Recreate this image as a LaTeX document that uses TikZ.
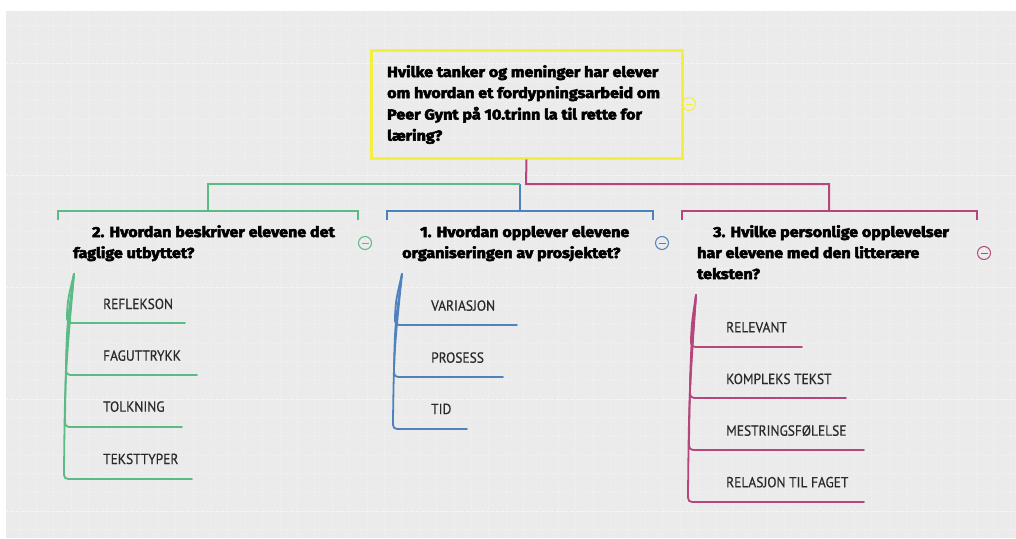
\documentclass[tikz,border=0pt]{standalone}
\usepackage{fontspec}
\setmainfont{PT Sans}[FakeStretch=0.92, FakeBold=0.5]
\newfontfamily\headfont{Fira Sans Bold}[FakeBold=3.6, FakeStretch=1.11]
\definecolor{bg}{HTML}{EBEBEB}
\definecolor{cgreen}{HTML}{5CBA85}
\definecolor{cblue}{HTML}{4E82BF}
\definecolor{cmag}{HTML}{B5467B}
\definecolor{cyel}{HTML}{F3EF3D}
\definecolor{itemtext}{HTML}{2A2A2A}
\begin{document}
\begin{tikzpicture}[x=1pt,y=-1pt,
  conn/.style={line width=2pt},
  branch/.style={line width=1.8pt, line cap=round},
  heading/.style={anchor=base west, inner sep=0, font=\headfont\fontsize{14.5}{21}\selectfont, text=black},
  itemlabel/.style={anchor=base west, inner sep=0, font=\fontsize{14.6}{16}\selectfont, text=itemtext},
  collapse/.style={circle, draw, line width=1pt, minimum size=13pt, inner sep=0,
    path picture={\draw[line width=1pt] ([xshift=-3.5pt]path picture bounding box.center) -- ([xshift=3.5pt]path picture bounding box.center);}},
  rootbox/.style={draw=cyel, line width=3pt, minimum width=311pt, minimum height=108pt, inner sep=0},
  gridminor/.style={white, opacity=.25, line width=.7pt, dash pattern=on 2pt off 1.5pt},
  gridmajor/.style={white, opacity=.45, line width=.9pt, dash pattern=on 3pt off 2pt},
]
\useasboundingbox (0,0) rectangle (1016,538);
\fill[white] (0,0) rectangle (1016,538);
\fill[bg] (6,11) rectangle (1016,538);
\begin{scope}
\clip (6,11) rectangle (1016,538);
\foreach \i in {0,...,58} {\draw[gridminor] ({19+17.4*\i},11) -- ({19+17.4*\i},538);}
\foreach \i in {-3,...,25} {\draw[gridminor] (6,{63+18.67*\i}) -- (1016,{63+18.67*\i});}
\foreach \i in {0,...,4} {\draw[gridmajor] (6,{63+112*\i}) -- (1016,{63+112*\i});}
\end{scope}

% root
\node[rootbox] (root) at (526.5,104) {};
\node[heading] (r1) at (387,77) {Hvilke tanker og meninger har elever};
\node[heading] (r2) at (387,98) {om hvordan et fordypningsarbeid om};
\node[heading] (r3) at (387,119.5) {Peer Gynt på 10.trinn la til rette for};
\node[heading] (r4) at (387,140.7) {læring?};
\node[collapse, draw=cyel] (rc) at (689,104) {};

% coordinates of the connector tree
\coordinate (rj) at (526,184);
\coordinate (mjr) at (829,184);
\coordinate (mtop) at (829,211);
\coordinate (bj) at (520,184);
\coordinate (btop) at (520,211);
\coordinate (gj) at (208,184);
\coordinate (gtop) at (208,211);
\coordinate (gL) at (58,220);
\coordinate (gLt) at (58,211);
\coordinate (gR) at (358,220);
\coordinate (gRt) at (358,211);
\coordinate (bL) at (387,220);
\coordinate (bLt) at (387,211);
\coordinate (bR) at (653,220);
\coordinate (bRt) at (653,211);
\coordinate (mL) at (682,220);
\coordinate (mLt) at (682,211);
\coordinate (mR) at (977,220);
\coordinate (mRt) at (977,211);

\draw[conn,cmag] (root.south) -- (rj) -- (mjr) -- (mtop);
\draw[conn,cmag] (mL) -- (mLt) -- (mRt) -- (mR);
\draw[conn,cblue] (bj) -- (btop);
\draw[conn,cblue] (bL) -- (bLt) -- (bRt) -- (bR);
\draw[conn,cgreen] (gtop) -- (gj) -- (bj);
\draw[conn,cgreen] (gL) -- (gLt) -- (gRt) -- (gR);

% headings
\node[heading] (g1) at (92,237) {2. Hvordan beskriver elevene det};
\node[heading] (g2) at (73,258) {faglige utbyttet?};
\node[collapse, draw=cgreen] (gc) at (365,243) {};
\node[heading] (b1) at (420,237) {1. Hvordan opplever elevene};
\node[heading] (b2) at (402,258) {organiseringen av prosjektet?};
\node[collapse, draw=cblue] (bc) at (662,243) {};
\node[heading] (m1) at (713,237) {3. Hvilke personlige opplevelser};
\node[heading] (m2) at (697,258) {har elevene med den litterære};
\node[heading] (m3) at (697,279) {teksten?};
\node[collapse, draw=cmag] (mc) at (984,253) {};

% green items
\coordinate (gs) at (74,274);
\foreach \y/\b/\e in {323/67/185, 375/66/197, 427/65/182, 479/64/192}
  \draw[branch,cgreen] (gs) .. controls (\b+1,{274+(\y-274)*0.5}) .. (\b,\y-9) .. controls (\b,\y) .. (\b+9,\y) -- (\e,\y);
\node[itemlabel] (g-i1) at (103,309) {REFLEKSON};
\node[itemlabel] (g-i2) at (103,360.7) {FAGUTTRYKK};
\node[itemlabel] (g-i3) at (103,411.7) {TOLKNING};
\node[itemlabel] (g-i4) at (103,464) {TEKSTTYPER};

% blue items
\coordinate (bs) at (402,274);
\foreach \y/\b/\e in {325/395/517, 377/394/503, 429/393/467}
  \draw[branch,cblue] (bs) .. controls (\b+1,{274+(\y-274)*0.5}) .. (\b,\y-9) .. controls (\b,\y) .. (\b+9,\y) -- (\e,\y);
\node[itemlabel] (b-i1) at (431,310.7) {VARIASJON};
\node[itemlabel] (b-i2) at (431,362.7) {PROSESS};
\node[itemlabel] (b-i3) at (431,414) {TID};

% magenta items
\coordinate (ms) at (696,295);
\foreach \y/\b/\e in {347/691/802, 398/690/846, 450/689/864, 502/688/864}
  \draw[branch,cmag] (ms) .. controls (\b+1,{295+(\y-295)*0.5}) .. (\b,\y-9) .. controls (\b,\y) .. (\b+9,\y) -- (\e,\y);
\node[itemlabel] (m-i1) at (726,332.3) {RELEVANT};
\node[itemlabel] (m-i2) at (726,384) {KOMPLEKS TEKST};
\node[itemlabel] (m-i3) at (726,435.7) {MESTRINGSFØLELSE};
\node[itemlabel] (m-i4) at (726,487.3) {RELASJON TIL FAGET};
\end{tikzpicture}
\end{document}
